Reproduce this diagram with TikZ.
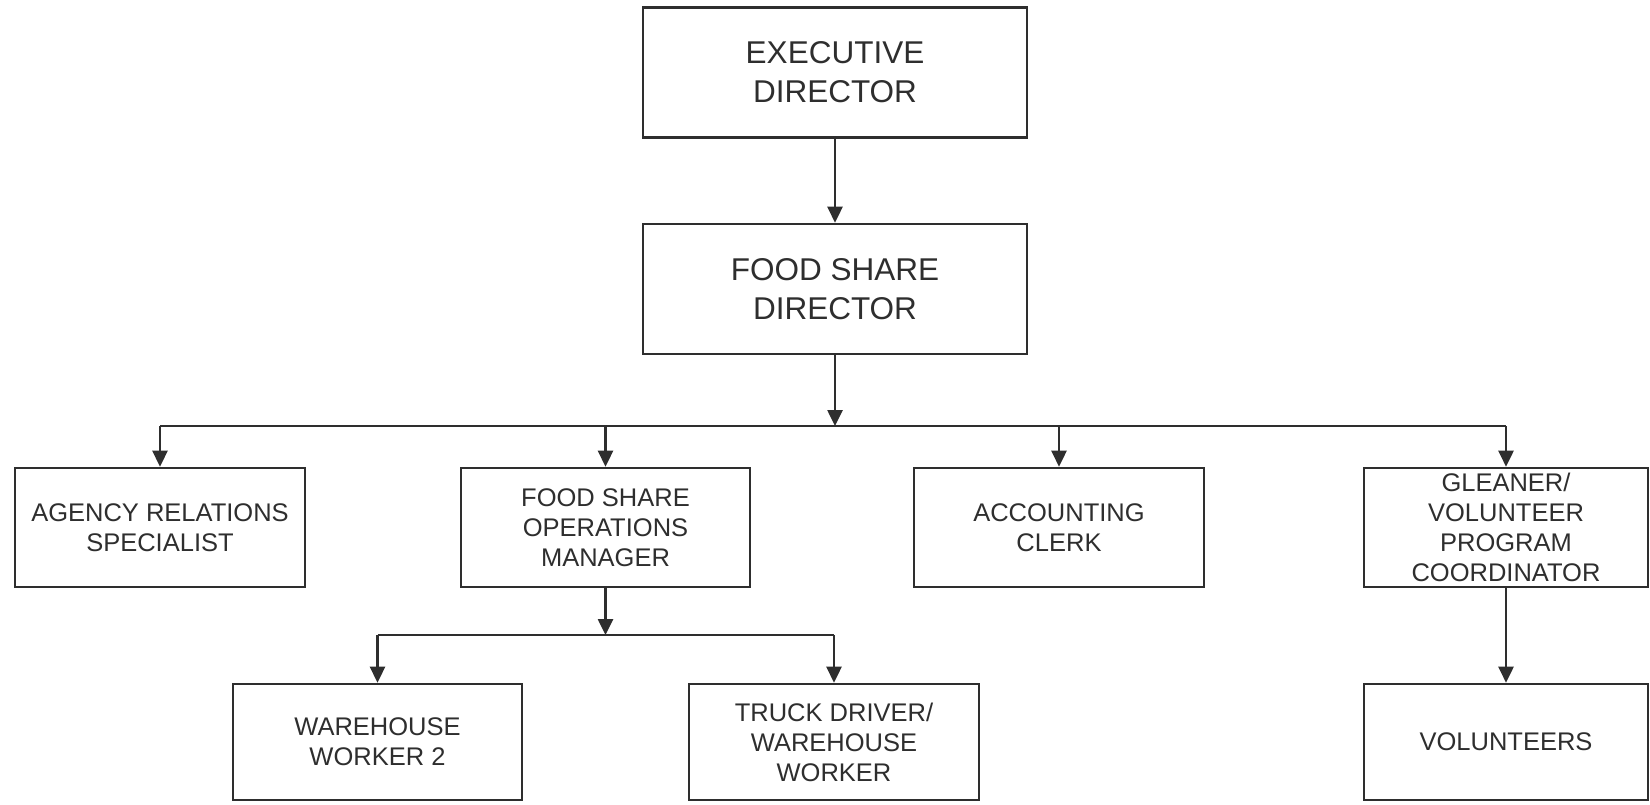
\documentclass[tikz,border=0pt]{standalone}
\usepackage{fontspec}
\setmainfont{Liberation Sans}
\usetikzlibrary{arrows.meta}
\definecolor{ink}{HTML}{2E2E2E}
\begin{document}
\begin{tikzpicture}[x=1pt,y=-1pt,
  box/.style={draw=ink, line width=2.6pt, text=ink, align=center, inner sep=0pt, minimum height=#1},
  topbox/.style={box=130pt, minimum width=384pt, font=\fontsize{31.5}{39}\selectfont},
  lowbox/.style={box=119pt, font=\fontsize{25.5}{30}\selectfont},
  botbox/.style={box=116pt, font=\fontsize{25.5}{30}\selectfont},
  conn/.style={draw=ink, line width=2.6pt},
  arr/.style={conn, -{Triangle[width=15pt,length=16pt]}}]
\useasboundingbox (0,0) rectangle (1650,804);
\node[topbox] (exec) at (835,72.5) {EXECUTIVE\\DIRECTOR};
\node[topbox] (fsd) at (835,289) {FOOD SHARE\\DIRECTOR};
\node[lowbox, minimum width=290pt] (agency) at (160,527.5) {AGENCY RELATIONS\\SPECIALIST};
\node[lowbox, minimum width=289pt] (ops) at (605.5,527.5) {FOOD SHARE\\OPERATIONS\\MANAGER};
\node[lowbox, minimum width=290pt] (acct) at (1059,527.5) {ACCOUNTING\\CLERK};
\node[lowbox, minimum width=284pt] (glean) at (1506,527.5) {GLEANER/\\VOLUNTEER\\PROGRAM\\COORDINATOR};
\node[botbox, minimum width=289pt] (wh) at (377.5,742) {WAREHOUSE\\WORKER 2};
\node[botbox, minimum width=290pt] (truck) at (834,742) {TRUCK DRIVER/\\WAREHOUSE\\WORKER};
\node[botbox, minimum width=284pt] (vol) at (1506,742) {VOLUNTEERS};
\coordinate (bus) at (835,426);
\coordinate (sub) at (605.5,635);
\draw[arr] (exec) -- (fsd);
\draw[arr] (fsd) -- (bus);
\draw[conn] (agency.north |- bus) -- (glean.north |- bus);
\draw[arr] (agency.north |- bus) -- (agency.north);
\draw[arr] (ops.north |- bus) -- (ops.north);
\draw[arr] (acct.north |- bus) -- (acct.north);
\draw[arr] (glean.north |- bus) -- (glean.north);
\draw[arr] (ops) -- (sub);
\draw[conn] (wh.north |- sub) -- (truck.north |- sub);
\draw[arr] (wh.north |- sub) -- (wh.north);
\draw[arr] (truck.north |- sub) -- (truck.north);
\draw[arr] (glean) -- (vol);
\end{tikzpicture}
\end{document}
